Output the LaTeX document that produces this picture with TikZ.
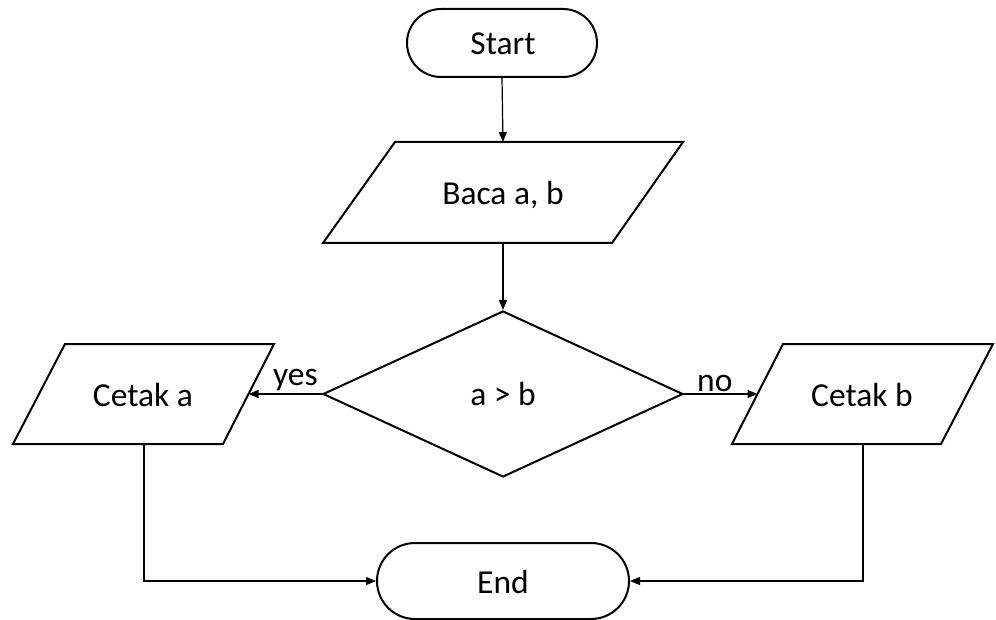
\documentclass[tikz,border=0pt]{standalone}
\usepackage{fontspec}
\setmainfont{Carlito}
\usetikzlibrary{shapes.geometric,arrows.meta}
\begin{document}
\begin{tikzpicture}[x=1pt,y=-1pt,
  every node/.style={font=\fontsize{33.5}{40}\selectfont, inner sep=0pt},
  shapeline/.style={draw=black, line width=2pt, fill=white},
  terminal/.style={shapeline, rectangle},
  decision/.style={shapeline, diamond, minimum width=360pt, minimum height=166pt},
  conn/.style={draw=black, line width=1.2pt, -{Triangle[length=10pt,width=8pt]}},
  lbl/.style={anchor=base west}]
\useasboundingbox (0,0) rectangle (996,620);

% Start
\node[terminal, rounded corners=34pt, minimum width=190pt, minimum height=68pt] (start) at (502,43) {};
\node[anchor=base] (starttxt) at (503,55) {Start};

% Baca a, b
\coordinate (b1) at (323,243); \coordinate (b2) at (612,243);
\coordinate (b3) at (683,142); \coordinate (b4) at (395,142);
\draw[shapeline] (b1)--(b2)--(b3)--(b4)--cycle;
\node[anchor=base] (baca) at (503,205) {Baca a, b};
\coordinate (bacain) at (503,142);
\coordinate (bacaout) at (503,243);

% Decision
\node[decision] (dec) at (503,394) {};
\node[anchor=base] (dectxt) at (503,405) {a > b};

% Cetak a
\coordinate (a1) at (13,444); \coordinate (a2) at (223,444);
\coordinate (a3) at (274,344); \coordinate (a4) at (65,344);
\draw[shapeline] (a1)--(a2)--(a3)--(a4)--cycle;
\node[anchor=base] (cetaka) at (143,406) {Cetak a};
\coordinate (cetakain) at (248.5,394);
\coordinate (cetakaout) at (144,444);

% Cetak b
\coordinate (c1) at (732,444); \coordinate (c2) at (941,444);
\coordinate (c3) at (993,344); \coordinate (c4) at (783,344);
\draw[shapeline] (c1)--(c2)--(c3)--(c4)--cycle;
\node[anchor=base] (cetakb) at (862,406) {Cetak b};
\coordinate (cetakbin) at (757.5,394);
\coordinate (cetakbout) at (863,444);

% End
\node[terminal, rounded corners=38pt, minimum width=252pt, minimum height=76pt] (end) at (503,581) {};
\node[anchor=base] (endtxt) at (503,593) {End};

% Connectors
\draw[conn] (start.south) -- (bacain);
\draw[conn] (bacaout) -- (dec.north);
\draw[conn] (dec.west) -- (cetakain);
\draw[conn] (dec.east) -- (cetakbin);
\draw[conn] (cetakaout) |- (end.west);
\draw[conn] (cetakbout) |- (end.east);

% Labels
\node[lbl] (yes) at (273,385) {yes};
\node[lbl] (no) at (697,391) {no};
\end{tikzpicture}
\end{document}
